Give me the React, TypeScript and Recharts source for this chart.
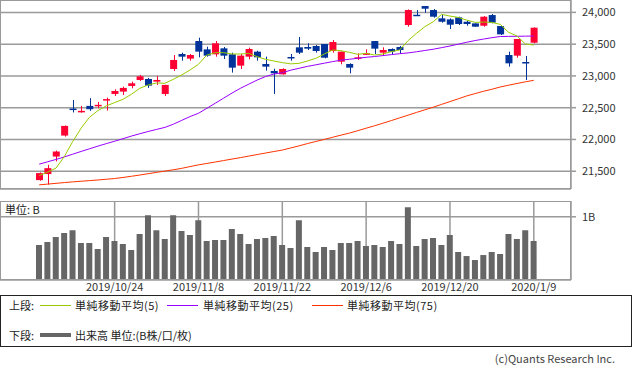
import { ComposedChart, Bar, Line, XAxis, YAxis, CartesianGrid } from 'recharts';

const dates = [
  '2019/10/9', '2019/10/10', '2019/10/11', '2019/10/15', '2019/10/16', '2019/10/17', '2019/10/18', '2019/10/21', '2019/10/23', '2019/10/24',
  '2019/10/25', '2019/10/28', '2019/10/29', '2019/10/30', '2019/10/31', '2019/11/1', '2019/11/5', '2019/11/6', '2019/11/7', '2019/11/8',
  '2019/11/11', '2019/11/12', '2019/11/13', '2019/11/14', '2019/11/15', '2019/11/18', '2019/11/19', '2019/11/20', '2019/11/21', '2019/11/22',
  '2019/11/25', '2019/11/26', '2019/11/27', '2019/11/28', '2019/11/29', '2019/12/2', '2019/12/3', '2019/12/4', '2019/12/5', '2019/12/6',
  '2019/12/9', '2019/12/10', '2019/12/11', '2019/12/12', '2019/12/13', '2019/12/16', '2019/12/17', '2019/12/18', '2019/12/19', '2019/12/20',
  '2019/12/23', '2019/12/24', '2019/12/25', '2019/12/26', '2019/12/27', '2019/12/30', '2020/1/6', '2020/1/7', '2020/1/8', '2020/1/9',
];

const tickDates = ['2019/10/24', '2019/11/8', '2019/11/22', '2019/12/6', '2019/12/20', '2020/1/9'];

const open = [
  21360, 21455, 21731, 22061, 22486, 22440, 22528, 22528, 22622, 22716,
  22753, 22842, 22936, 22952, 22910, 22716, 23109, 23345, 23272, 23549,
  23418, 23340, 23434, 23340, 23162, 23303, 23382, 23188, 23078, 23025,
  23298, 23450, 23455, 23471, 23502, 23392, 23224, 23188, 23277, 23340,
  23549, 23366, 23424, 23455, 23801, 23963, 24100, 24037, 23906, 23890,
  23921, 23853, 23827, 23790, 23958, 23785, 23329, 23319, 23219, 23523,
];
const high = [
  21480, 21600, 21825, 22220, 22620, 22528, 22650, 22590, 22659, 22790,
  22831, 22910, 23015, 22968, 22999, 22860, 23329, 23366, 23345, 23602,
  23460, 23549, 23455, 23366, 23345, 23445, 23397, 23303, 23114, 23120,
  23345, 23612, 23513, 23487, 23502, 23565, 23382, 23198, 23355, 23418,
  23549, 23450, 23434, 23471, 24047, 24037, 24100, 24052, 23969, 23906,
  23932, 23869, 23827, 23942, 23974, 23785, 23382, 23581, 23314, 23764,
];
const low = [
  21350, 21290, 21655, 22045, 22425, 22423, 22450, 22491, 22454, 22685,
  22700, 22805, 22921, 22811, 22858, 22685, 23078, 23240, 23240, 23293,
  23303, 23303, 23266, 23052, 23109, 23261, 23240, 23083, 22716, 23020,
  23240, 23345, 23408, 23366, 23277, 23366, 23183, 23041, 23251, 23329,
  23345, 23329, 23345, 23345, 23775, 23948, 23995, 23916, 23838, 23738,
  23801, 23790, 23775, 23775, 23827, 23644, 23146, 23287, 22936, 23513,
];
const close = [
  21470, 21548, 21810, 22213, 22472, 22450, 22476, 22545, 22635, 22763,
  22811, 22884, 22994, 22847, 22936, 22858, 23251, 23303, 23329, 23382,
  23319, 23513, 23319, 23130, 23319, 23424, 23293, 23146, 23041, 23109,
  23290, 23366, 23429, 23392, 23287, 23534, 23382, 23130, 23293, 23355,
  23429, 23408, 23382, 23408, 24037, 23953, 24058, 23932, 23853, 23806,
  23817, 23817, 23775, 23932, 23838, 23654, 23198, 23581, 23204, 23759,
];

const ma5 = [
  21432, 21485, 21548, 21731, 21967, 22177, 22349, 22454, 22528, 22580,
  22632, 22711, 22805, 22858, 22889, 22884, 22947, 23015, 23094, 23183,
  23329, 23366, 23366, 23345, 23345, 23355, 23303, 23261, 23235, 23209,
  23190, 23198, 23235, 23277, 23345, 23408, 23397, 23371, 23340, 23355,
  23329, 23345, 23382, 23408, 23555, 23670, 23775, 23853, 23969, 23942,
  23921, 23879, 23843, 23848, 23843, 23811, 23686, 23628, 23502, 23486,
];
const ma25 = [
  21611, 21648, 21685, 21725, 21768, 21811, 21853, 21895, 21934, 21972,
  22012, 22053, 22090, 22125, 22158, 22190, 22240, 22300, 22360, 22412,
  22490, 22570, 22650, 22730, 22805, 22870, 22935, 22990, 23030, 23050,
  23090, 23120, 23150, 23175, 23200, 23225, 23248, 23262, 23278, 23293,
  23305, 23320, 23335, 23350, 23362, 23380, 23400, 23420, 23445, 23471,
  23500, 23530, 23557, 23580, 23602, 23620, 23622, 23624, 23626, 23628,
];
const ma75 = [
  21285, 21297, 21309, 21321, 21332, 21342, 21352, 21362, 21373, 21385,
  21402, 21420, 21440, 21461, 21482, 21502, 21523, 21545, 21573, 21600,
  21622, 21645, 21668, 21691, 21714, 21738, 21762, 21786, 21810, 21833,
  21866, 21899, 21935, 21968, 22000, 22034, 22068, 22100, 22138, 22177,
  22215, 22255, 22297, 22340, 22382, 22425, 22466, 22508, 22552, 22596,
  22640, 22685, 22722, 22758, 22790, 22826, 22854, 22881, 22907, 22931,
];

// volume in billions of shares
const volume = [
  0.553, 0.600, 0.679, 0.742, 0.789, 0.584, 0.584, 0.489, 0.679, 0.616,
  0.568, 0.474, 0.726, 1.026, 0.789, 0.647, 1.026, 0.774, 0.711, 0.947,
  0.616, 0.632, 0.632, 0.805, 0.726, 0.568, 0.647, 0.663, 0.695, 0.553,
  0.505, 0.947, 0.521, 0.442, 0.521, 0.474, 0.584, 0.584, 0.616, 0.537,
  0.553, 0.521, 0.616, 0.568, 1.153, 0.537, 0.647, 0.663, 0.553, 0.711,
  0.442, 0.379, 0.316, 0.395, 0.442, 0.411, 0.726, 0.647, 0.789, 0.616,
];

const priceTicks = [21500, 22000, 22500, 23000, 23500, 24000];
const volumeTicks = [1];

const RED = '#ff0033';
const BLUE = '#003399';
const GRID = '#9a9a9a';
const FONT = '"Noto Sans CJK JP", "Noto Sans", sans-serif';

const rows = dates.map((date, i) => ({
  date,
  open: open[i],
  high: high[i],
  low: low[i],
  close: close[i],
  range: [low[i], high[i]],
  ma5: ma5[i],
  ma25: ma25[i],
  ma75: ma75[i],
  volume: volume[i],
}));

const Candle = (props: any) => {
  const { x, y, width, height, payload } = props;
  const up = payload.close >= payload.open;
  const color = up ? RED : BLUE;
  const span = payload.high - payload.low || 1;
  const py = (v: number) => y + ((payload.high - v) / span) * height;
  const cx = Math.round(x + width / 2) + 0.5;
  const top = py(Math.max(payload.open, payload.close));
  const bot = py(Math.min(payload.open, payload.close));
  return (
    <g>
      <line x1={cx} x2={cx} y1={y} y2={y + height} stroke={color} strokeWidth={1} />
      <rect x={x} y={top} width={width} height={Math.max(bot - top, 1.5)} fill={color} />
    </g>
  );
};

const tickStyle = { fontSize: 11, fill: '#333', fontFamily: FONT };

const legendText = { position: 'absolute' as const, fontSize: 11, lineHeight: '15px', whiteSpace: 'nowrap' as const };

export default function App() {
  return (
    <div style={{ position: 'absolute', left: 0, top: 0, width: 633, height: 370, background: '#fff', fontFamily: FONT }}>
      <div style={{ position: 'absolute', left: 0, top: 0 }}>
        <ComposedChart width={633} height={190} data={rows} margin={{ top: 0, right: 0, bottom: 0, left: 0 }}>
          <CartesianGrid stroke={GRID} strokeWidth={1.5} />
          <XAxis
            dataKey="date"
            ticks={tickDates}
            interval={0}
            padding={{ left: 35, right: 33 }}
            height={1}
            tick={false}
            tickLine={false}
            axisLine={false}
          />
          <YAxis
            orientation="right"
            width={62}
            type="number"
            domain={[21220, 24195]}
            allowDataOverflow
            ticks={priceTicks}
            interval={0}
            tickFormatter={(v: number) => v.toLocaleString('en-US')}
            tick={tickStyle}
            tickLine={{ stroke: GRID, strokeWidth: 1.5 }}
            tickSize={5}
            tickMargin={6}
            axisLine={false}
          />
          <Line dataKey="ma75" stroke="#ff3300" strokeWidth={1} dot={false} activeDot={false} isAnimationActive={false} />
          <Line dataKey="ma25" stroke="#9900ff" strokeWidth={1} dot={false} activeDot={false} isAnimationActive={false} />
          <Line dataKey="ma5" stroke="#99cc00" strokeWidth={1} dot={false} activeDot={false} isAnimationActive={false} />
          <Bar dataKey="range" barSize={7} shape={Candle} activeBar={false} isAnimationActive={false} />
        </ComposedChart>
        <div style={{ position: 'absolute', left: 0, top: 0, width: 571, height: 189, border: `1px solid ${GRID}`, boxSizing: 'border-box', pointerEvents: 'none' }} />
      </div>

      <div style={{ position: 'absolute', left: 0, top: 201 }}>
        <ComposedChart width={633} height={100} data={rows} margin={{ top: 0, right: 0, bottom: 0, left: 0 }}>
          <CartesianGrid stroke={GRID} strokeWidth={1.5} />
          <XAxis
            dataKey="date"
            ticks={tickDates}
            interval={0}
            padding={{ left: 35, right: 33 }}
            height={21}
            tick={tickStyle}
            tickLine={false}
            tickSize={0}
            tickMargin={3}
            axisLine={false}
          />
          <YAxis
            orientation="right"
            width={62}
            type="number"
            domain={[0, 1.25]}
            allowDataOverflow
            ticks={volumeTicks}
            tickFormatter={(v: number) => `${v}B`}
            tick={tickStyle}
            tickLine={{ stroke: GRID, strokeWidth: 1.5 }}
            tickSize={5}
            tickMargin={6}
            axisLine={false}
          />
          <Bar dataKey="volume" fill="#666666" barSize={6} activeBar={false} isAnimationActive={false} />
        </ComposedChart>
        <div style={{ position: 'absolute', left: 0, top: 0, width: 571, height: 79, border: `1px solid ${GRID}`, boxSizing: 'border-box', pointerEvents: 'none' }} />
        <div style={{ position: 'absolute', left: 5, top: 1, fontSize: 11, color: '#222', lineHeight: '15px' }}>単位: B</div>
      </div>

      <div style={{ position: 'absolute', left: 0, top: 295, width: 632, height: 52, border: '1px solid #222', boxSizing: 'border-box', color: '#222' }}>
        <span style={{ ...legendText, left: 8, top: 2 }}>上段:</span>
        <span style={{ position: 'absolute', left: 39, top: 9, width: 31, height: 1, background: '#99cc00' }} />
        <span style={{ ...legendText, left: 74, top: 2, letterSpacing: 0.5 }}>単純移動平均(5)</span>
        <span style={{ position: 'absolute', left: 166, top: 9, width: 31, height: 1, background: '#9900ff' }} />
        <span style={{ ...legendText, left: 202, top: 2, letterSpacing: 0.5 }}>単純移動平均(25)</span>
        <span style={{ position: 'absolute', left: 311, top: 9, width: 31, height: 1, background: '#ff3300' }} />
        <span style={{ ...legendText, left: 346, top: 2, letterSpacing: 0.5 }}>単純移動平均(75)</span>

        <span style={{ ...legendText, left: 8, top: 32 }}>下段:</span>
        <span style={{ position: 'absolute', left: 39, top: 37, width: 31, height: 4, background: '#666666' }} />
        <span style={{ ...legendText, left: 74, top: 32 }}>出来高 単位:(B株/口/枚)</span>
      </div>

      <div style={{ position: 'absolute', right: 18, top: 351, fontSize: 11, color: '#444', lineHeight: '14px' }}>(c)Quants Research Inc.</div>
    </div>
  );
}
